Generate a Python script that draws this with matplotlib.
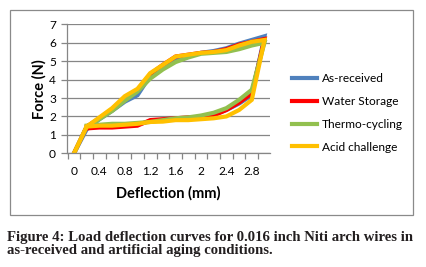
import matplotlib
matplotlib.use("Agg")
import matplotlib.pyplot as plt
from matplotlib.patches import Rectangle
from matplotlib.ticker import MultipleLocator, FixedLocator

# deflection goes out to 3.0 mm (loading) and back to 0.2 mm (unloading)
deflection = [0, 0.2, 0.4, 0.6, 0.8, 1.0, 1.2, 1.4, 1.6, 1.8, 2.0, 2.2, 2.4, 2.6, 2.8, 3.0,
              2.8, 2.6, 2.4, 2.2, 2.0, 1.8, 1.6, 1.4, 1.2, 1.0, 0.8, 0.6, 0.4, 0.2]

as_received = [0, 1.3, 1.85, 2.3, 2.8, 3.15, 4.2, 4.7, 5.1, 5.3, 5.45, 5.55, 5.7, 5.95, 6.15, 6.35,
               3.15, 2.7, 2.35, 2.1, 1.95, 1.9, 1.9, 1.8, 1.75, 1.55, 1.5, 1.5, 1.5, 1.45]
water_storage = [0, 1.45, 1.9, 2.4, 3.0, 3.4, 4.3, 4.8, 5.25, 5.35, 5.45, 5.5, 5.65, 5.9, 6.05, 6.2,
                 3.25, 2.75, 2.35, 2.05, 1.95, 1.95, 1.9, 1.85, 1.8, 1.5, 1.45, 1.4, 1.4, 1.35]
thermo_cycling = [0, 1.45, 1.85, 2.3, 2.85, 3.35, 4.05, 4.55, 4.95, 5.2, 5.4, 5.45, 5.5, 5.65, 5.85, 6.0,
                  3.45, 2.9, 2.45, 2.2, 2.05, 1.95, 1.9, 1.8, 1.7, 1.65, 1.6, 1.6, 1.55, 1.5]
acid_challenge = [0, 1.45, 1.95, 2.45, 3.1, 3.5, 4.35, 4.8, 5.25, 5.35, 5.45, 5.5, 5.6, 5.85, 6.05, 6.15,
                  2.9, 2.35, 2.0, 1.9, 1.85, 1.8, 1.8, 1.72, 1.7, 1.6, 1.55, 1.5, 1.5, 1.45]

labels = ["As-received", "Water Storage", "Thermo-cycling", "Acid challenge"]
colors = ["#4F81BD", "#FF0000", "#92C04F", "#FFC000"]
x_labels = [0, 0.4, 0.8, 1.2, 1.6, 2, 2.4, 2.8]

plt.rcParams['font.family'] = ['Lato', 'DejaVu Sans']

W, H = 427, 267
fig = plt.figure(figsize=(W / 100, H / 100), dpi=100)
fig.patch.set_facecolor("white")

# gray frame around chart
fig.patches.append(Rectangle((10 / W, 1 - 215 / H), 403 / W, 205 / H, transform=fig.transFigure,
                             fill=False, edgecolor="#8a8a8a", linewidth=0.9))

ax = fig.add_axes([67 / W, 1 - 153.3 / H, 203 / W, 129 / H])

for ys, lab, c in zip([as_received, water_storage, thermo_cycling, acid_challenge], labels, colors):
    ax.plot(deflection, ys, color=c, linewidth=3.0, label=lab, solid_joinstyle="miter")

ax.set_xlim(-0.11, 3.087)
ax.set_ylim(0, 7)
ax.yaxis.set_major_locator(MultipleLocator(1))
ax.xaxis.set_major_locator(FixedLocator(x_labels))
ax.set_xticklabels([str(v) for v in x_labels])
ax.xaxis.set_minor_locator(FixedLocator([-0.1 + 0.2 * k for k in range(17)]))
ax.tick_params(axis="x", which="major", length=0, pad=9, labelsize=8.6)
ax.tick_params(axis="x", which="minor", length=4, color="#868686", width=0.9)
ax.tick_params(axis="y", length=4, color="#868686", width=0.9, labelsize=8.6, pad=4)
ax.grid(axis="y", color="#868686", linewidth=0.9)
ax.set_axisbelow(True)
for s in ["top", "right"]:
    ax.spines[s].set_visible(False)
for s in ["left", "bottom"]:
    ax.spines[s].set_color("#868686")
    ax.spines[s].set_linewidth(0.9)

ax.set_xlabel("Deflection (mm)", fontsize=10.5, fontweight="bold", labelpad=7)
ax.set_ylabel("Force (N)", fontsize=10.5, fontweight="bold", labelpad=2)

fig.legend(loc="center left", bbox_to_anchor=(281 / W, 1 - 113 / H), frameon=False,
           fontsize=8.6, handlelength=2.1, handletextpad=0.4, labelspacing=0.98)

cap = ("Figure 4: Load deflection curves for 0.016 inch Niti arch wires in\n"
       "as-received and artificial aging conditions.")
fig.text(7 / W, 1 - 231 / H, cap, family="Liberation Serif", fontweight="bold",
         fontsize=10.6, color="#231f20", va="top", ha="left", linespacing=1.0)

fig.savefig("out.png", dpi=100)
